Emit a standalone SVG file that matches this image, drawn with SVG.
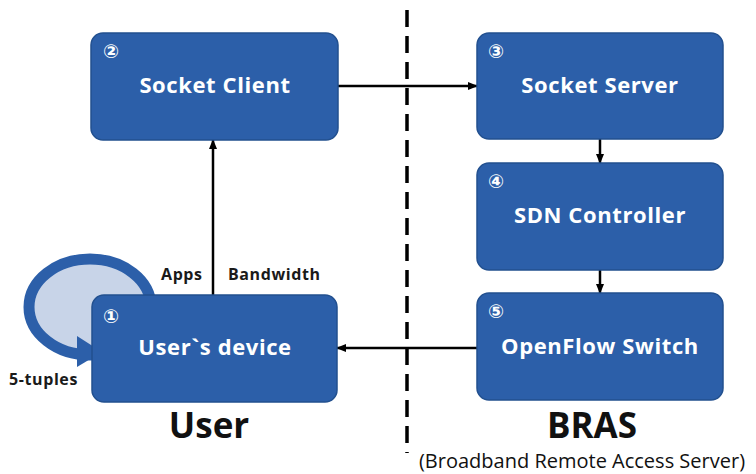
<svg xmlns="http://www.w3.org/2000/svg" width="756" height="474" viewBox="0 0 756 474">
<style>
.box{fill:#2c5fa9;stroke:#22508f;stroke-width:1.5}
.lbl{font-family:"Open Sans","Liberation Sans",sans-serif;font-weight:bold;font-size:22px;letter-spacing:0.6px;fill:#ffffff;text-anchor:middle}
.num{font-family:"DejaVu Sans",sans-serif;font-weight:bold;font-size:19px;fill:#ffffff}
.small{font-family:"Open Sans","Liberation Sans",sans-serif;font-weight:bold;font-size:16px;letter-spacing:0.6px;fill:#1a1a1a}
.big{font-family:"Open Sans","Liberation Sans",sans-serif;font-weight:bold;font-size:35px;fill:#111111;text-anchor:middle}
.conn{stroke:#000;stroke-width:2.5;fill:none}
</style>
<defs>
<marker id="ah" markerWidth="10" markerHeight="10" refX="9" refY="5" orient="auto" markerUnits="userSpaceOnUse" viewBox="0 0 10 10">
<path d="M0,1 L10,5 L0,9 Z" fill="#000"/>
</marker>
</defs>
<rect width="756" height="474" fill="#ffffff"/>
<g id="divider">
<line x1="407" y1="10" x2="407" y2="453" stroke="#000" stroke-width="3.5" stroke-dasharray="17,9"/>
</g>
<g id="loop">
<ellipse cx="90" cy="307" rx="61" ry="48" fill="#c8d4e8" stroke="#2c5fa9" stroke-width="11"/>
<path d="M77,336 L102,352 L77,367 Z" fill="#2c5fa9"/>
</g>
<g id="connectors">
<line class="conn" x1="338" y1="86" x2="477" y2="86" marker-end="url(#ah)"/>
<line class="conn" x1="477" y1="348" x2="337" y2="348" marker-end="url(#ah)"/>
<line class="conn" x1="213" y1="295" x2="213" y2="140" marker-end="url(#ah)"/>
<line class="conn" x1="600" y1="139" x2="600" y2="163" marker-end="url(#ah)"/>
<line class="conn" x1="600" y1="270" x2="600" y2="293" marker-end="url(#ah)"/>
</g>
<g id="n1">
<rect class="box" x="92" y="295" width="245" height="107" rx="12"/>
<text class="num" x="103" y="323">①</text>
<text class="lbl" x="215" y="355">User`s device</text>
</g>
<g id="n2">
<rect class="box" x="91" y="33" width="247" height="107" rx="12"/>
<text class="num" x="103" y="58">②</text>
<text class="lbl" x="215" y="93">Socket Client</text>
</g>
<g id="n3">
<rect class="box" x="477" y="33" width="246" height="106" rx="12"/>
<text class="num" x="488" y="58">③</text>
<text class="lbl" x="600" y="93">Socket Server</text>
</g>
<g id="n4">
<rect class="box" x="477" y="163" width="246" height="107" rx="12"/>
<text class="num" x="488" y="188">④</text>
<text class="lbl" x="600" y="223">SDN Controller</text>
</g>
<g id="n5">
<rect class="box" x="477" y="293" width="246" height="107" rx="12"/>
<text class="num" x="488" y="318">⑤</text>
<text class="lbl" x="600" y="354">OpenFlow Switch</text>
</g>
<g id="labels">
<text class="small" x="161" y="280">Apps</text>
<text class="small" x="228" y="280">Bandwidth</text>
<text class="small" x="9" y="385">5-tuples</text>
<text class="big" x="209" y="438">User</text>
<text class="big" x="592" y="438">BRAS</text>
<text x="582" y="468" font-family="Open Sans,Liberation Sans,sans-serif" font-size="20" fill="#111" text-anchor="middle">(Broadband Remote Access Server)</text>
</g>
</svg>
